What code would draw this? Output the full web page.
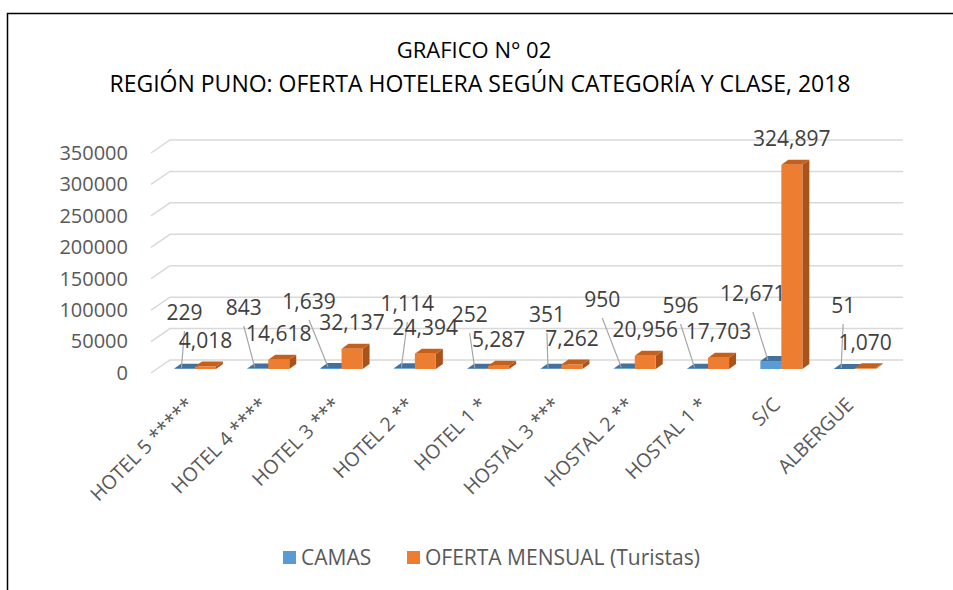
<!DOCTYPE html>
<html>
<head>
<meta charset="utf-8">
<script src="https://cdn.jsdelivr.net/npm/d3@7"></script>
<style>
  body { margin: 0; background: #fff; }
  text { font-family: 'Open Sans', sans-serif; }
</style>
</head>
<body>
<div id="chart"></div>
<script>
const categories = ['HOTEL 5 *****', 'HOTEL 4 ****', 'HOTEL 3 ***', 'HOTEL 2 **', 'HOTEL 1 *',
  'HOSTAL 3 ***', 'HOSTAL 2 **', 'HOSTAL 1 *', 'S/C', 'ALBERGUE']
const camas = [229, 843, 1639, 1114, 252, 351, 950, 596, 12671, 51]
const oferta = [4018, 14618, 32137, 24394, 5287, 7262, 20956, 17703, 324897, 1070]
const yTicks = [0, 50000, 100000, 150000, 200000, 250000, 300000, 350000]
const seriesNames = ['CAMAS', 'OFERTA MENSUAL (Turistas)']
const titleLines = ['GRAFICO N° 02', 'REGIÓN PUNO: OFERTA HOTELERA SEGÚN CATEGORÍA Y CLASE, 2018']

// where the CAMAS labels were dragged to (offset from the blue bar, label centre y)
const camasLabelShift = [0, -14, -22, 3, -8, -4, -22, -17, -18, -1]
const camasLabelY = [313, 308, 302, 304, 315, 315, 300, 306, 294, 306]

const width = 953
const height = 590

const colors = {
  camas: { front: '#5b9bd5', top: '#41719c', side: '#3b6a96' },
  oferta: { front: '#ed7d31', top: '#c55f1c', side: '#a9531a' }
}

const svg = d3
  .select('#chart')
  .append('svg')
  .attr('width', width)
  .attr('height', height)

// chart frame (cut off at the right and bottom in the original)
svg
  .append('rect')
  .attr('x', 7.5)
  .attr('y', 13.5)
  .attr('width', 1000)
  .attr('height', 1000)
  .attr('fill', 'none')
  .attr('stroke', '#000')
  .attr('stroke-width', 1.5)

svg
  .selectAll('.title')
  .data(titleLines)
  .enter()
  .append('text')
  .attr('class', 'title')
  .attr('x', (d, i) => (i === 0 ? 474 : 480))
  .attr('y', (d, i) => (i === 0 ? 58 : 92))
  .attr('text-anchor', 'middle')
  .attr('font-size', (d, i) => (i === 0 ? 22 : 23))
  .attr('fill', '#000')
  .text(d => d)

const xPositionScale = d3
  .scaleBand()
  .domain(categories)
  .range([158.3, 891.3])

// y on the front edge of the floor; the back wall sits up and to the right
const yPositionScale = d3
  .scaleLinear()
  .domain([0, 350000])
  .range([373, 153])

const wall = { dx: 19, dy: -13, right: 903 }
const barW = 21
const depth = { dx: 7, dy: -5 }
const barLift = -4

// gridlines: short slanted piece on the side wall, then across the back wall
const grid = svg.append('g').attr('class', 'grid')
grid
  .selectAll('path')
  .data(yTicks)
  .enter()
  .append('path')
  .attr('fill', 'none')
  .attr('stroke', '#d9d9d9')
  .attr('stroke-width', 1.5)
  .attr('d', d => {
    const x0 = 151
    const y0 = yPositionScale(d)
    return 'M' + x0 + ',' + y0 +
      'L' + (x0 + wall.dx) + ',' + (y0 + wall.dy) +
      'L' + wall.right + ',' + (y0 + wall.dy)
  })

const yAxis = d3
  .axisLeft(yPositionScale)
  .tickValues(yTicks)
  .tickFormat(d3.format('d'))
  .tickSize(0)
  .tickPadding(0)

svg
  .append('g')
  .attr('class', 'axis y-axis')
  .attr('transform', 'translate(128,0)')
  .call(yAxis)

svg.select('.y-axis .domain').remove()
svg
  .selectAll('.y-axis text')
  .attr('font-size', 20)
  .attr('fill', '#595959')
  .attr('font-family', "'Open Sans', sans-serif")

// one 3d column: front face, top, right side
function drawBars(values, key, offset) {
  const c = colors[key]
  const g = svg
    .append('g')
    .attr('class', 'bars-' + key)
    .selectAll('g')
    .data(values)
    .enter()
    .append('g')

  const x0 = (d, i) => xPositionScale(categories[i]) + xPositionScale.bandwidth() / 2 + offset
  const yb = () => yPositionScale(0) + barLift
  const yt = d => yPositionScale(d) + barLift

  g.append('path')
    .attr('fill', c.side)
    .attr('d', (d, i) => {
      const x = x0(d, i) + barW
      return 'M' + x + ',' + yb() + 'L' + (x + depth.dx) + ',' + (yb() + depth.dy) +
        'L' + (x + depth.dx) + ',' + (yt(d) + depth.dy) + 'L' + x + ',' + yt(d) + 'Z'
    })

  g.append('path')
    .attr('fill', c.top)
    .attr('d', (d, i) => {
      const x = x0(d, i)
      return 'M' + x + ',' + yt(d) + 'L' + (x + depth.dx) + ',' + (yt(d) + depth.dy) +
        'L' + (x + barW + depth.dx) + ',' + (yt(d) + depth.dy) + 'L' + (x + barW) + ',' + yt(d) + 'Z'
    })

  g.append('rect')
    .attr('fill', c.front)
    .attr('x', (d, i) => x0(d, i))
    .attr('y', d => yt(d))
    .attr('width', barW)
    .attr('height', d => yb() - yt(d))
}

drawBars(camas, 'camas', -barW)
drawBars(oferta, 'oferta', 0)

// leader lines from the moved CAMAS labels
const center = i => xPositionScale(categories[i]) + xPositionScale.bandwidth() / 2

svg
  .append('g')
  .selectAll('line')
  .data(camas)
  .enter()
  .append('line')
  .attr('stroke', '#a6a6a6')
  .attr('stroke-width', 1.2)
  .attr('x1', (d, i) => center(i) - barW / 2 + camasLabelShift[i])
  .attr('y1', (d, i) => camasLabelY[i] + 18)
  .attr('x2', (d, i) => center(i) - barW / 2 - 3)
  .attr('y2', d => yPositionScale(d) + barLift - 1)

const fmt = d3.format(',')

svg
  .append('g')
  .selectAll('text')
  .data(camas)
  .enter()
  .append('text')
  .attr('x', (d, i) => center(i) - barW / 2 + camasLabelShift[i])
  .attr('y', (d, i) => camasLabelY[i])
  .attr('dy', '0.35em')
  .attr('text-anchor', 'middle')
  .attr('font-size', 21)
  .attr('fill', '#404040')
  .text(d => fmt(d))

svg
  .append('g')
  .selectAll('text')
  .data(oferta)
  .enter()
  .append('text')
  .attr('x', (d, i) => center(i) + barW / 2)
  .attr('y', d => yPositionScale(d) + barLift - 26)
  .attr('dy', '0.35em')
  .attr('text-anchor', 'middle')
  .attr('font-size', 21)
  .attr('fill', '#404040')
  .text(d => fmt(d))

// category labels, slanted
svg
  .append('g')
  .selectAll('text')
  .data(categories)
  .enter()
  .append('text')
  .attr('transform', d => 'translate(' + (xPositionScale(d) + xPositionScale.bandwidth() / 2) + ',406) rotate(-45)')
  .attr('text-anchor', 'end')
  .attr('font-size', 19.5)
  .attr('fill', '#595959')
  .text(d => d)

// legend
const legend = svg
  .append('g')
  .selectAll('g')
  .data(seriesNames)
  .enter()
  .append('g')
  .attr('transform', (d, i) => 'translate(' + (i === 0 ? 283 : 407) + ',551)')

legend
  .append('rect')
  .attr('width', 13)
  .attr('height', 13)
  .attr('fill', (d, i) => (i === 0 ? colors.camas.front : colors.oferta.front))

legend
  .append('text')
  .attr('x', 18)
  .attr('y', 7)
  .attr('dy', '0.35em')
  .attr('font-size', 21)
  .attr('fill', '#595959')
  .text(d => d)
</script>
</body>
</html>
